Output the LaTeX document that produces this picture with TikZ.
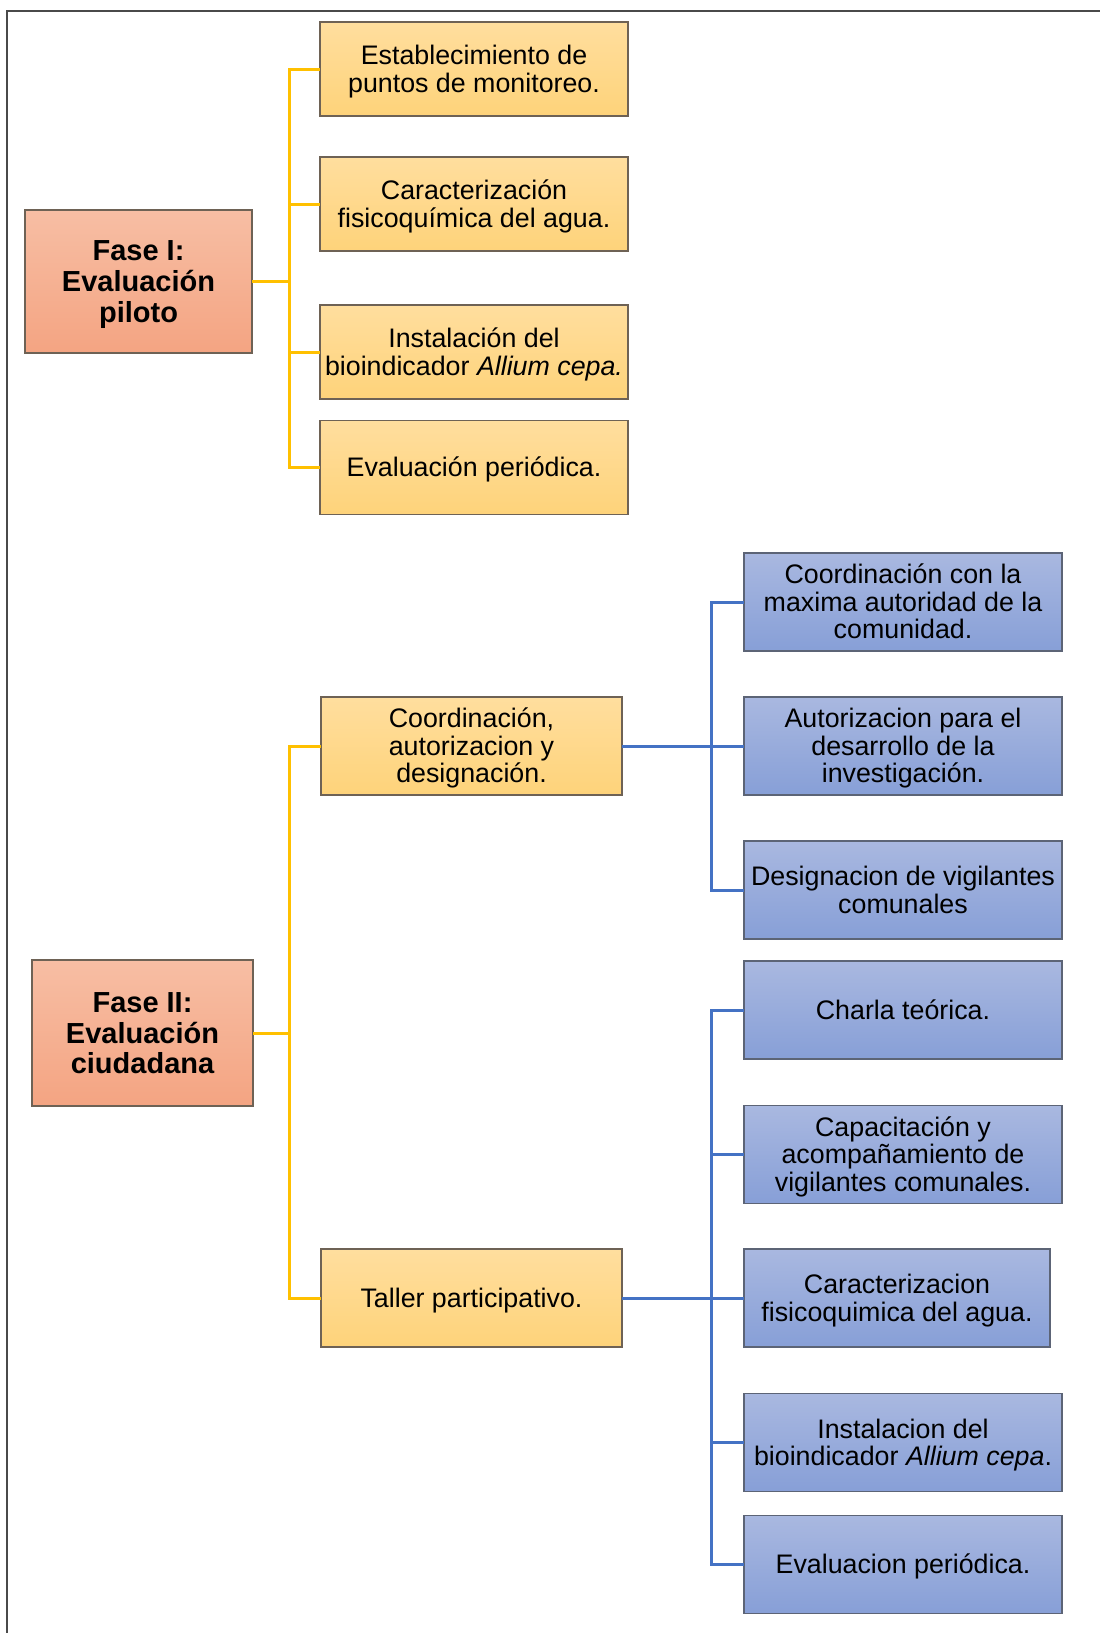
\documentclass[tikz,border=0pt]{standalone}
\usepackage{fontspec}
\setmainfont{Liberation Sans}
\definecolor{salT}{HTML}{F7BEA4}
\definecolor{salB}{HTML}{F4A482}
\definecolor{yelT}{HTML}{FFDE9E}
\definecolor{yelB}{HTML}{FED37A}
\definecolor{bluT}{HTML}{A9B8E0}
\definecolor{bluB}{HTML}{879FD7}
\definecolor{warmline}{HTML}{6E6255}
\definecolor{coolline}{HTML}{5C6476}
\definecolor{yconn}{HTML}{FFC000}
\definecolor{bconn}{HTML}{4472C4}
\definecolor{framec}{HTML}{4A4A4A}
\newcommand\sx{\rule[-0.212em]{0pt}{1.117em}}
\newcommand\boxfont{\fontsize{26.8}{27.6}\selectfont\lineskiplimit=-60pt\relax\lineskip=0pt\relax}
\newcommand\phasefont{\fontsize{29}{30.7}\selectfont\bfseries\lineskiplimit=-60pt\relax\lineskip=0pt\relax}
\begin{document}
\begin{tikzpicture}[x=1pt,y=-1pt,
  basebox/.style={line width=1.1pt, inner sep=0pt, outer sep=0pt, align=center,
    font=\boxfont},
  phasebox/.style={basebox, draw=warmline, top color=salT, bottom color=salB,
    font=\phasefont},
  yelbox/.style={basebox, draw=warmline, top color=yelT, bottom color=yelB,
    minimum width=308pt, minimum height=94pt},
  midbox/.style={basebox, draw=warmline, top color=yelT, bottom color=yelB,
    minimum width=301pt, minimum height=98pt},
  blubox/.style={basebox, draw=coolline, top color=bluT, bottom color=bluB,
    minimum width=318pt, minimum height=98pt},
  yline/.style={draw=yconn, line width=3pt},
  bline/.style={draw=bconn, line width=3pt},
  frameline/.style={draw=framec, line width=2.4pt}]
\useasboundingbox (0,0) rectangle (1100,1633);
\draw[frameline] (1100,11) -- (7,11) -- (7,1633);

% Phase I
\node[phasebox, minimum width=227pt, minimum height=143pt] (F1) at (138.5,281.5) {\sx Fase I:\\\sx Evaluación\\\sx piloto};
\node[yelbox] (Y1) at (474,69) {\sx Establecimiento de\\\sx puntos de monitoreo.};
\node[yelbox] (Y2) at (474,204) {\sx Caracterización\\\sx fisicoquímica del agua.};
\node[yelbox] (Y3) at (474,352) {\sx Instalación del\\\sx bioindicador \textit{Allium cepa.}};
\node[yelbox] (Y4) at (474,467.5) {\sx Evaluación periódica.};

\coordinate (j1) at (289,281.5);
\draw[yline] (F1.east) -- (j1);
\foreach \n in {Y1,Y2,Y3,Y4} \draw[yline] (j1) |- (\n.west);

% Phase II
\node[phasebox, minimum width=221pt, minimum height=146pt] (F2) at (142.5,1033) {\sx Fase II:\\\sx Evaluación\\\sx ciudadana};
\node[midbox] (C) at (471.5,746) {\sx Coordinación,\\\sx autorizacion y\\\sx designación.};
\node[midbox] (T) at (471.5,1298) {\sx Taller participativo.};

\coordinate (j2) at (289,1033);
\draw[yline] (F2.east) -- (j2);
\foreach \n in {C,T} \draw[yline] (j2) |- (\n.west);

\node[blubox] (B1) at (903,602) {\sx Coordinación con la\\\sx maxima autoridad de la\\\sx comunidad.};
\node[blubox] (B2) at (903,746) {\sx Autorizacion para el\\\sx desarrollo de la\\\sx investigación.};
\node[blubox] (B3) at (903,890) {\sx Designacion de vigilantes\\\sx comunales};
\node[blubox] (B4) at (903,1010) {\sx Charla teórica.};
\node[blubox] (B5) at (903,1154.5) {\sx Capacitación y\\\sx acompañamiento de\\\sx vigilantes comunales.};
\node[blubox, minimum width=306pt] (B6) at (897,1298) {\sx Caracterizacion\\\sx fisicoquimica del agua.};
\node[blubox] (B7) at (903,1442.5) {\sx Instalacion del\\\sx bioindicador \textit{Allium cepa}.};
\node[blubox] (B8) at (903,1564.5) {\sx Evaluacion periódica.};

\coordinate (j3) at (711,746);
\draw[bline] (C.east) -- (j3);
\foreach \n in {B1,B2,B3} \draw[bline] (j3) |- (\n.west);

\coordinate (j4) at (711,1298);
\draw[bline] (T.east) -- (j4);
\foreach \n in {B4,B5,B6,B7,B8} \draw[bline] (j4) |- (\n.west);
\end{tikzpicture}
\end{document}
